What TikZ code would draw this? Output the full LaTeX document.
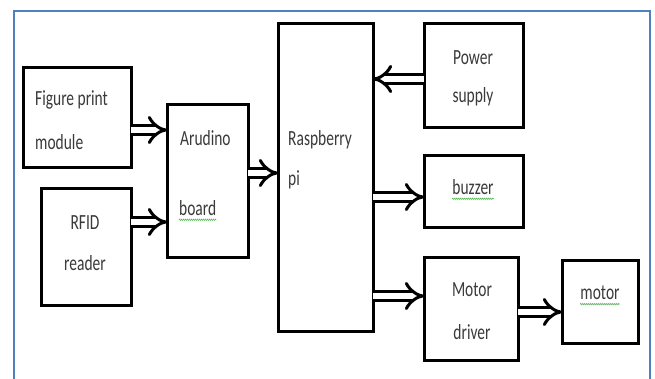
\documentclass[tikz,border=0pt]{standalone}
\usepackage{fontspec}
\setmainfont{Carlito}
\usetikzlibrary{arrows.meta,decorations.pathmorphing}
\definecolor{frameblue}{HTML}{4F81BD}
\definecolor{txtgray}{HTML}{3A3A3A}
\definecolor{spell}{HTML}{5DB85D}
\newcommand{\lbl}[1]{\scalebox{0.86}[1.2]{#1}}
\tikzset{
  blk/.style={draw=black, line width=3pt, rectangle, inner sep=0pt, outer sep=0pt},
  lab/.style={inner sep=0pt, text=txtgray, font=\fontsize{18}{21}\selectfont},
  dbl/.style={draw=black, double=white, double distance=6.5pt, line width=3pt, -{Implies[length=5pt]}},
  squig/.style={draw=spell, line width=0.6pt, decorate, decoration={zigzag, amplitude=0.7pt, segment length=2pt}},
  frm/.style={draw=frameblue, line width=1.6pt}
}
\begin{document}
\begin{tikzpicture}[x=1pt,y=-1pt]
\useasboundingbox (0,0) rectangle (655,378);
\fill[white] (0,0) rectangle (655,378);
\draw[frm] (14,400) -- (14,11) -- (650,11) -- (650,400);

% boxes
\node[blk, minimum width=108pt, minimum height=100pt] (fig) at (77,117) {};
\node[blk, minimum width=90pt, minimum height=117pt] (rfid) at (86,246.5) {};
\node[blk, minimum width=81pt, minimum height=153pt] (ard) at (207.5,180.5) {};
\node[blk, minimum width=95pt, minimum height=308pt] (rpi) at (325.5,177) {};
\node[blk, minimum width=99pt, minimum height=104pt] (pow) at (473.5,75) {};
\node[blk, minimum width=99pt, minimum height=72pt] (buz) at (473.5,191) {};
\node[blk, minimum width=94pt, minimum height=103pt] (mdr) at (471,308.5) {};
\node[blk, minimum width=76pt, minimum height=83pt] (mot) at (600,301.5) {};

% labels
\node[lab, anchor=west] (fig1) at (35,100) {\lbl{Figure print}};
\node[lab, anchor=west] (fig2) at (35,142) {\lbl{module}};
\node[lab] (rf1) at (85,223) {\lbl{RFID}};
\node[lab] (rf2) at (85,263) {\lbl{reader}};
\node[lab, anchor=west] (ar1) at (180,138) {\lbl{Arudino}};
\node[lab, anchor=west] (ar2) at (179,208) {\lbl{board}};
\node[lab, anchor=west] (rp1) at (288,140) {\lbl{Raspberry}};
\node[lab, anchor=west] (rp2) at (288,180) {\lbl{pi}};
\node[lab] (pw1) at (473,58) {\lbl{Power}};
\node[lab] (pw2) at (473,97) {\lbl{supply}};
\node[lab] (bz1) at (473,187) {\lbl{buzzer}};
\node[lab] (md1) at (472,290) {\lbl{Motor}};
\node[lab] (md2) at (472,332) {\lbl{driver}};
\node[lab] (mo1) at (600,293) {\lbl{motor}};

% spell-check squiggles
\draw[squig] ([yshift=-4pt]ar2.south west) -- ([yshift=-4pt]ar2.south east);
\draw[squig] ([yshift=-4pt]bz1.south west) -- ([yshift=-4pt]bz1.south east);
\draw[squig] ([yshift=-4pt]mo1.south west) -- ([yshift=-4pt]mo1.south east);

% connectors
\draw[dbl] ([yshift=-13pt]fig.east) -- ([yshift=-13pt]fig.east -| ard.west);
\draw[dbl] ([yshift=24.5pt]rfid.east) -- ([yshift=24.5pt]rfid.east -| ard.west);
\draw[dbl] ([yshift=7.5pt]ard.east) -- ([yshift=7.5pt]ard.east -| rpi.west);
\draw[dbl] ([yshift=-4pt]pow.west) -- ([yshift=-4pt]pow.west -| rpi.east);
\draw[dbl] ([yshift=-6pt]buz.west -| rpi.east) -- ([yshift=-6pt]buz.west);
\draw[dbl] ([yshift=12.5pt]mdr.west -| rpi.east) -- ([yshift=12.5pt]mdr.west);
\draw[dbl] ([yshift=-3.5pt]mdr.east) -- ([yshift=-3.5pt]mdr.east -| mot.west);
\end{tikzpicture}
\end{document}
